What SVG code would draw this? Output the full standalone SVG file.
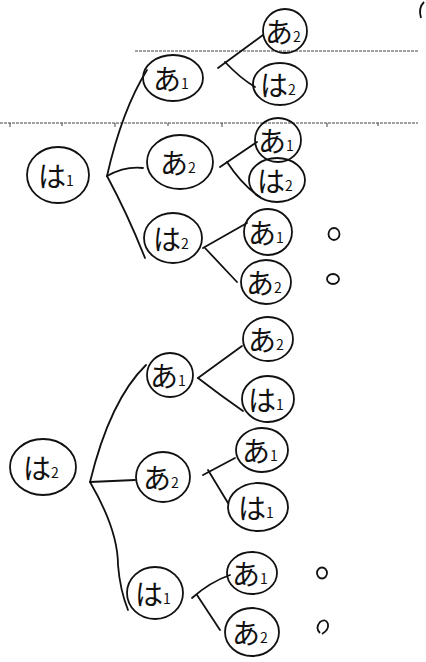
<svg xmlns="http://www.w3.org/2000/svg" width="426" height="662" viewBox="0 0 426 662">
<style>
.n ellipse{fill:none;stroke:#111;stroke-width:1.8}
.n text{font-family:"Noto Sans CJK JP","Noto Sans",sans-serif;font-size:28px;fill:#111;text-anchor:middle;dominant-baseline:central}
.n tspan.s{font-size:14px}
.c path{fill:none;stroke:#111;stroke-width:1.8;stroke-linecap:round}
.rule{stroke:#444;stroke-width:1;stroke-dasharray:3 1}
.tick{stroke:#444;stroke-width:1}
.mark{fill:none;stroke:#111;stroke-width:1.8}
</style>
<rect width="426" height="662" fill="#fff"/>
<g id="rules">
<line class="rule" x1="135" y1="51" x2="418" y2="51"/>
<line class="rule" x1="0" y1="123" x2="418" y2="123"/>
<path class="tick" d="M10 123v4M62 123v3M115 123v4M168 123v3M222 123v4M327 123v4M378 123v3"/>
<path class="mark" d="M424 2 Q418 8 421 18"/>
</g>
<g id="connectors" class="c">
<path d="M107 176 Q122 110 147 70"/>
<path d="M107 176 Q125 166 143 168"/>
<path d="M107 176 Q128 215 145 258"/>
<path d="M218 68 L263 35"/>
<path d="M225 62 Q240 78 255 87"/>
<path d="M220 167 L257 142"/>
<path d="M227 162 Q242 185 260 197"/>
<path d="M203 248 L247 223"/>
<path d="M205 248 L237 282"/>
<path d="M90 482 Q110 400 146 365"/>
<path d="M90 482 L135 480"/>
<path d="M90 482 Q118 530 118 565 Q120 590 128 610"/>
<path d="M198 378 L242 346"/>
<path d="M198 378 Q220 395 243 411"/>
<path d="M203 475 L235 458"/>
<path d="M208 470 L228 503"/>
<path d="M192 598 Q210 582 230 575"/>
<path d="M197 595 L220 630"/>
</g>
<g id="t1-root" class="n"><ellipse cx="58" cy="175" rx="31" ry="28"/><text x="56" y="175">は<tspan class="s" dy="5">1</tspan></text></g>
<g id="t1-a1" class="n"><ellipse cx="173" cy="78" rx="30" ry="23"/><text x="171" y="78">あ<tspan class="s" dy="5">1</tspan></text></g>
<g id="t1-a2" class="n"><ellipse cx="180" cy="162" rx="33" ry="27"/><text x="178" y="162">あ<tspan class="s" dy="5">2</tspan></text></g>
<g id="t1-ha2" class="n"><ellipse cx="173" cy="238" rx="29" ry="25"/><text x="171" y="238">は<tspan class="s" dy="5">2</tspan></text></g>
<g id="t1-a1-a2" class="n"><ellipse cx="285" cy="31" rx="22" ry="22"/><text x="283" y="31">あ<tspan class="s" dy="5">2</tspan></text></g>
<g id="t1-a1-ha2" class="n"><ellipse cx="280" cy="84" rx="27" ry="21"/><text x="278" y="84">は<tspan class="s" dy="5">2</tspan></text></g>
<g id="t1-a2-a1" class="n"><ellipse cx="278" cy="140" rx="23" ry="22"/><text x="276" y="140">あ<tspan class="s" dy="5">1</tspan></text></g>
<g id="t1-a2-ha2" class="n"><ellipse cx="277" cy="180" rx="28" ry="22"/><text x="275" y="180">は<tspan class="s" dy="5">2</tspan></text></g>
<g id="t1-ha2-a1" class="n"><ellipse cx="268" cy="232" rx="24" ry="23"/><text x="266" y="232">あ<tspan class="s" dy="5">1</tspan></text></g>
<g id="t1-ha2-a2" class="n"><ellipse cx="266" cy="282" rx="25" ry="22"/><text x="264" y="282">あ<tspan class="s" dy="5">2</tspan></text></g>
<g id="t2-root" class="n"><ellipse cx="43" cy="467" rx="33" ry="28"/><text x="41" y="467">は<tspan class="s" dy="5">2</tspan></text></g>
<g id="t2-a1" class="n"><ellipse cx="170" cy="375" rx="23" ry="22"/><text x="168" y="375">あ<tspan class="s" dy="5">1</tspan></text></g>
<g id="t2-a2" class="n"><ellipse cx="163" cy="477" rx="27" ry="25"/><text x="161" y="477">あ<tspan class="s" dy="5">2</tspan></text></g>
<g id="t2-ha1" class="n"><ellipse cx="155" cy="593" rx="28" ry="26"/><text x="153" y="593">は<tspan class="s" dy="5">1</tspan></text></g>
<g id="t2-a1-a2" class="n"><ellipse cx="268" cy="339" rx="25" ry="22"/><text x="266" y="339">あ<tspan class="s" dy="5">2</tspan></text></g>
<g id="t2-a1-ha1" class="n"><ellipse cx="268" cy="399" rx="26" ry="23"/><text x="266" y="399">は<tspan class="s" dy="5">1</tspan></text></g>
<g id="t2-a2-a1" class="n"><ellipse cx="262" cy="450" rx="26" ry="22"/><text x="260" y="450">あ<tspan class="s" dy="5">1</tspan></text></g>
<g id="t2-a2-ha1" class="n"><ellipse cx="258" cy="507" rx="30" ry="24"/><text x="256" y="507">は<tspan class="s" dy="5">1</tspan></text></g>
<g id="t2-ha1-a1" class="n"><ellipse cx="252" cy="573" rx="25" ry="21"/><text x="250" y="573">あ<tspan class="s" dy="5">1</tspan></text></g>
<g id="t2-ha1-a2" class="n"><ellipse cx="252" cy="632" rx="27" ry="24"/><text x="250" y="632">あ<tspan class="s" dy="5">2</tspan></text></g>
<g id="marks">
<ellipse class="mark" cx="334" cy="234" rx="5.5" ry="6"/>
<ellipse class="mark" cx="333" cy="279" rx="6" ry="5"/>
<ellipse class="mark" cx="322" cy="573" rx="5" ry="5.5"/>
<path class="mark" d="M320 633 Q315 628 320 622 Q326 618 328 624 Q329 630 322 634"/>
</g>
</svg>
